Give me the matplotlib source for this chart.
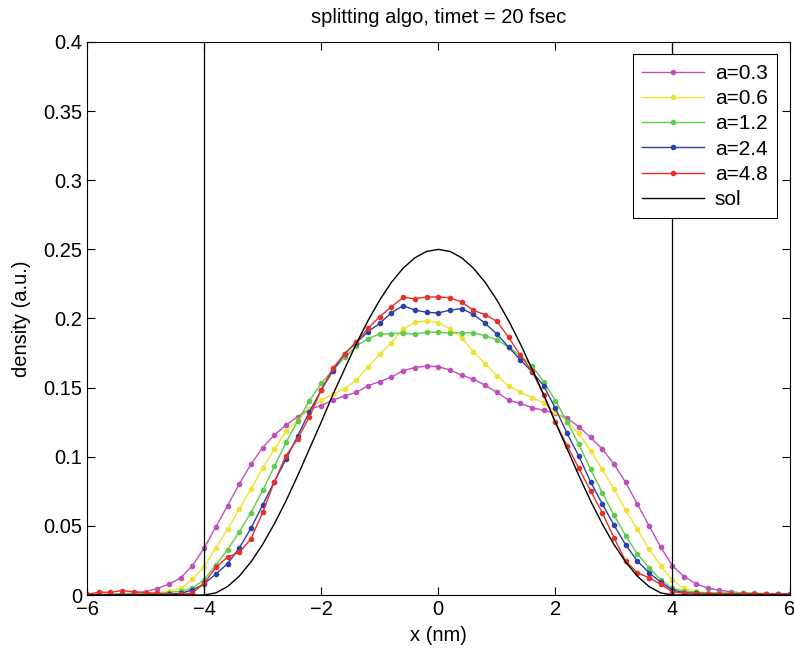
import numpy as np
import matplotlib
matplotlib.use('Agg')
import matplotlib.pyplot as plt

plt.rcParams['font.family'] = ['Liberation Sans', 'DejaVu Sans']

# grid points -6:0.2:6
x = np.round(np.arange(-6, 6.0001, 0.2), 1)

a03 = [0.0000, 0.0003, 0.0006, 0.0009, 0.0014, 0.0024, 0.0047, 0.0078, 0.0124, 0.0212,
       0.0338, 0.0492, 0.0646, 0.0803, 0.0945, 0.1066, 0.1157, 0.1230, 0.1290, 0.1345,
       0.1370, 0.1410, 0.1440, 0.1466, 0.1514, 0.1543, 0.1577, 0.1623, 0.1645, 0.1656,
       0.1652, 0.1627, 0.1590, 0.1560, 0.1517, 0.1466, 0.1410, 0.1386, 0.1355, 0.1336,
       0.1314, 0.1278, 0.1218, 0.1140, 0.1056, 0.0948, 0.0815, 0.0658, 0.0501, 0.0345,
       0.0212, 0.0133, 0.0082, 0.0050, 0.0035, 0.0023, 0.0014, 0.0009, 0.0005, 0.0003,
       0.0001]
a06 = [0.0003, 0.0004, 0.0005, 0.0006, 0.0008, 0.0012, 0.0018, 0.0026, 0.0048, 0.0113,
       0.0205, 0.0342, 0.0475, 0.0620, 0.0767, 0.0916, 0.1054, 0.1186, 0.1266, 0.1345,
       0.1410, 0.1452, 0.1492, 0.1555, 0.1649, 0.1741, 0.1825, 0.1922, 0.1972, 0.1984,
       0.1970, 0.1924, 0.1861, 0.1760, 0.1673, 0.1586, 0.1512, 0.1466, 0.1428, 0.1391,
       0.1326, 0.1254, 0.1170, 0.1044, 0.0911, 0.0767, 0.0615, 0.0477, 0.0333, 0.0212,
       0.0108, 0.0048, 0.0027, 0.0015, 0.0010, 0.0008, 0.0006, 0.0005, 0.0004, 0.0003,
       0.0002]
a12 = [0.0002, 0.0003, 0.0004, 0.0005, 0.0006, 0.0008, 0.0012, 0.0018, 0.0028, 0.0048,
       0.0112, 0.0215, 0.0328, 0.0456, 0.0596, 0.0756, 0.0930, 0.1104, 0.1261, 0.1406,
       0.1531, 0.1627, 0.1718, 0.1801, 0.1854, 0.1888, 0.1890, 0.1895, 0.1886, 0.1902,
       0.1900, 0.1895, 0.1897, 0.1895, 0.1876, 0.1845, 0.1794, 0.1731, 0.1659, 0.1543,
       0.1406, 0.1254, 0.1090, 0.0911, 0.0740, 0.0579, 0.0429, 0.0297, 0.0198, 0.0108,
       0.0048, 0.0029, 0.0020, 0.0016, 0.0015, 0.0016, 0.0017, 0.0014, 0.0010, 0.0008,
       0.0007]
a24 = [0.0003, 0.0003, 0.0003, 0.0003, 0.0003, 0.0004, 0.0005, 0.0007, 0.0012, 0.0036,
       0.0080, 0.0152, 0.0226, 0.0340, 0.0482, 0.0651, 0.0820, 0.0984, 0.1152, 0.1326,
       0.1483, 0.1622, 0.1745, 0.1825, 0.1905, 0.1965, 0.2042, 0.2093, 0.2061, 0.2045,
       0.2040, 0.2061, 0.2071, 0.2030, 0.1965, 0.1888, 0.1794, 0.1702, 0.1615, 0.1514,
       0.1350, 0.1170, 0.1005, 0.0820, 0.0660, 0.0506, 0.0364, 0.0246, 0.0161, 0.0092,
       0.0036, 0.0017, 0.0012, 0.0010, 0.0009, 0.0008, 0.0008, 0.0007, 0.0007, 0.0007,
       0.0007]
a48 = [0.0005, 0.0020, 0.0020, 0.0031, 0.0024, 0.0017, 0.0012, 0.0003, 0.0005, 0.0014,
       0.0084, 0.0199, 0.0275, 0.0308, 0.0406, 0.0598, 0.0820, 0.1008, 0.1131, 0.1290,
       0.1483, 0.1640, 0.1745, 0.1832, 0.1929, 0.2013, 0.2085, 0.2153, 0.2143, 0.2156,
       0.2156, 0.2150, 0.2119, 0.2059, 0.2028, 0.1980, 0.1864, 0.1736, 0.1620, 0.1447,
       0.1249, 0.1080, 0.0918, 0.0755, 0.0596, 0.0415, 0.0246, 0.0161, 0.0125, 0.0077,
       0.0024, 0.0012, 0.0010, 0.0009, 0.0008, 0.0008, 0.0007, 0.0007, 0.0007, 0.0007,
       0.0007]

# exact solution, read on the same grid
sol = [0, 0, 0, 0, 0, 0, 0, 0, 0, 0,
       0.0000, 0.0015, 0.0061, 0.0136, 0.0239, 0.0366, 0.0515, 0.0682, 0.0865, 0.1058,
       0.1250, 0.1450, 0.1635, 0.1818, 0.1985, 0.2134, 0.2262, 0.2364, 0.2439, 0.2485,
       0.2500, 0.2485, 0.2439, 0.2364, 0.2262, 0.2134, 0.1985, 0.1818, 0.1635, 0.1450,
       0.1250, 0.1058, 0.0865, 0.0682, 0.0515, 0.0366, 0.0239, 0.0136, 0.0061, 0.0015,
       0.0000, 0, 0, 0, 0, 0, 0, 0, 0, 0, 0]

labels = ['a=0.3', 'a=0.6', 'a=1.2', 'a=2.4', 'a=4.8']
series = [a03, a06, a12, a24, a48]
colors = ['#BF4FBF', '#EEE236', '#5FCB4B', '#2C41A8', '#E6302B']
walls = [-4, 4]

fig = plt.figure(figsize=(7.94, 6.54), dpi=100)
ax = fig.add_axes([0.1096, 0.0902, 0.8848, 0.8456])

for ys, lab, c in zip(series, labels, colors):
    ax.plot(x, ys, '-', color=c, lw=1.0, marker='.', ms=6, label=lab)
ax.plot(x, sol, '-', color='k', lw=1.0, label='sol')

for wx in walls:
    ax.axvline(wx, color='k', lw=0.9)

ax.set_xlim(-6, 6)
ax.set_ylim(0, 0.4)
ax.set_xticks(np.arange(-6, 7, 2))
ax.set_yticks(np.arange(0, 0.401, 0.05))
ax.set_yticklabels(['0', '0.05', '0.1', '0.15', '0.2', '0.25', '0.3', '0.35', '0.4'])
ax.tick_params(direction='in', length=6, labelsize=14.5, top=True, right=True, width=0.8)
for s in ax.spines.values():
    s.set_linewidth(0.8)

ax.set_xlabel('x (nm)', fontsize=14.5, labelpad=5)
ax.set_ylabel('density (a.u.)', fontsize=14.5, labelpad=9)
ax.set_title('splitting algo, timet = 20 fsec', fontsize=14.5, pad=14)

leg = ax.legend(loc='upper right', fontsize=15, numpoints=1, fancybox=False,
                framealpha=1, edgecolor='k', handlelength=3.0, borderaxespad=0.6,
                labelspacing=0.3, handletextpad=0.5, borderpad=0.45)
leg.get_frame().set_linewidth(0.8)

fig.savefig('out.png', dpi=100)
